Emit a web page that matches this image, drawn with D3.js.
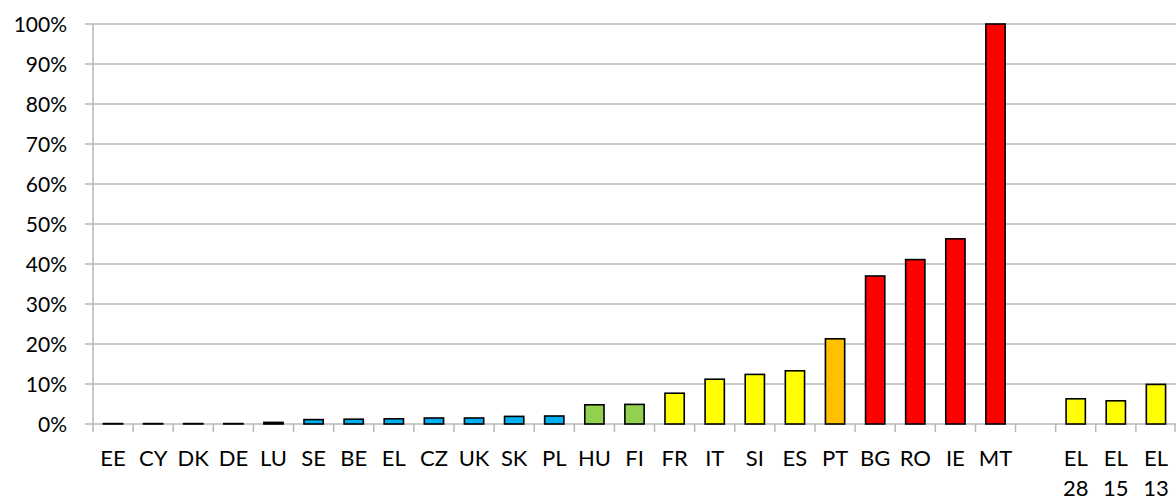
<!DOCTYPE html>
<html>
<head>
<meta charset="utf-8">
<script src="https://cdn.jsdelivr.net/npm/d3@7"></script>
<style>
  html, body { margin: 0; padding: 0; background: #fff; }
  svg { display: block; }
</style>
</head>
<body>
<svg class="chart"></svg>
<script>
// category labels (blank slot = gap before the EL extras)
const categories = ["EE", "CY", "DK", "DE", "LU", "SE", "BE", "EL", "CZ", "UK", "SK", "PL",
    "HU", "FI", "FR", "IT", "SI", "ES", "PT", "BG", "RO", "IE", "MT", "", "EL 28", "EL 15", "EL 13"];

// values in percent
const values = [0.1, 0.1, 0.1, 0.1, 0.4, 1.1, 1.2, 1.3, 1.5, 1.5, 1.9, 2.0,
    4.8, 4.9, 7.7, 11.2, 12.4, 13.3, 21.3, 37.0, 41.1, 46.3, 100, null, 6.3, 5.8, 9.9];

// colour group of each bar
const groups = ["b", "b", "b", "b", "b", "b", "b", "b", "b", "b", "b", "b",
    "g", "g", "y", "y", "y", "y", "o", "r", "r", "r", "r", null, "y", "y", "y"];

const yTicks = [0, 10, 20, 30, 40, 50, 60, 70, 80, 90, 100];

const groupColors = { b: "#00B0F0", g: "#92D050", y: "#FFFF00", o: "#FFC000", r: "#FF0000" };

const width = 1176, height = 501;
const plotLeft = 93, plotRight = 1176, plotTop = 24, plotBottom = 424;

const svg = d3.select(".chart")
    .attr("width", width)
    .attr("height", height)
    .style("font-family", "Lato, 'Open Sans', sans-serif");

const x = d3.scaleBand()
    .domain(d3.range(categories.length))
    .range([plotLeft, plotRight])
    .paddingInner(0.52)
    .paddingOuter(0.26);

const y = d3.scaleLinear()
    .domain([0, 100])
    .range([plotBottom, plotTop]);

// gridlines + y labels
svg.append("g")
    .selectAll("line")
    .data(yTicks)
    .enter()
    .append("line")
    .attr("x1", plotLeft - 8)
    .attr("x2", plotRight)
    .attr("y1", d => y(d))
    .attr("y2", d => y(d))
    .attr("stroke", "#b8b8b8")
    .attr("stroke-width", 1.5);

svg.append("g")
    .selectAll("text")
    .data(yTicks)
    .enter()
    .append("text")
    .attr("x", 67)
    .attr("y", d => y(d))
    .attr("dy", "0.36em")
    .attr("text-anchor", "end")
    .attr("font-size", 21)
    .attr("fill", "#000")
    .text(d => d + "%");

// y axis line
svg.append("line")
    .attr("x1", plotLeft).attr("x2", plotLeft)
    .attr("y1", y(100)).attr("y2", plotBottom + 8)
    .attr("stroke", "#b8b8b8")
    .attr("stroke-width", 1.5);

// x tick marks at band boundaries
const step = x.step();
const bounds = d3.range(1, categories.length + 1).map(i => plotLeft + i * step);
svg.append("g")
    .selectAll("line")
    .data(bounds)
    .enter()
    .append("line")
    .attr("x1", d => Math.min(d, plotRight - 1))
    .attr("x2", d => Math.min(d, plotRight - 1))
    .attr("y1", plotBottom)
    .attr("y2", plotBottom + 8)
    .attr("stroke", "#b8b8b8")
    .attr("stroke-width", 1.5);

// bars (skip the empty gap slot)
const barIdx = d3.range(values.length).filter(i => values[i] !== null);
svg.append("g")
    .selectAll("rect")
    .data(barIdx)
    .enter()
    .append("rect")
    .attr("x", i => x(i))
    .attr("y", i => y(values[i]))
    .attr("width", x.bandwidth())
    .attr("height", i => plotBottom - y(values[i]))
    .attr("fill", i => groupColors[groups[i]])
    .attr("stroke", "#000")
    .attr("stroke-width", 1.6);

// x labels (two lines for EL variants)
svg.append("g")
    .selectAll("text")
    .data(d3.range(categories.length))
    .enter()
    .append("text")
    .attr("text-anchor", "middle")
    .attr("font-size", 22)
    .attr("fill", "#000")
    .each(function (i) {
        const t = d3.select(this);
        categories[i].split(" ").forEach((p, k) => {
            t.append("tspan")
                .attr("x", x(i) + x.bandwidth() / 2)
                .attr("y", 466 + k * 30)
                .text(p);
        });
    });
</script>
</body>
</html>
